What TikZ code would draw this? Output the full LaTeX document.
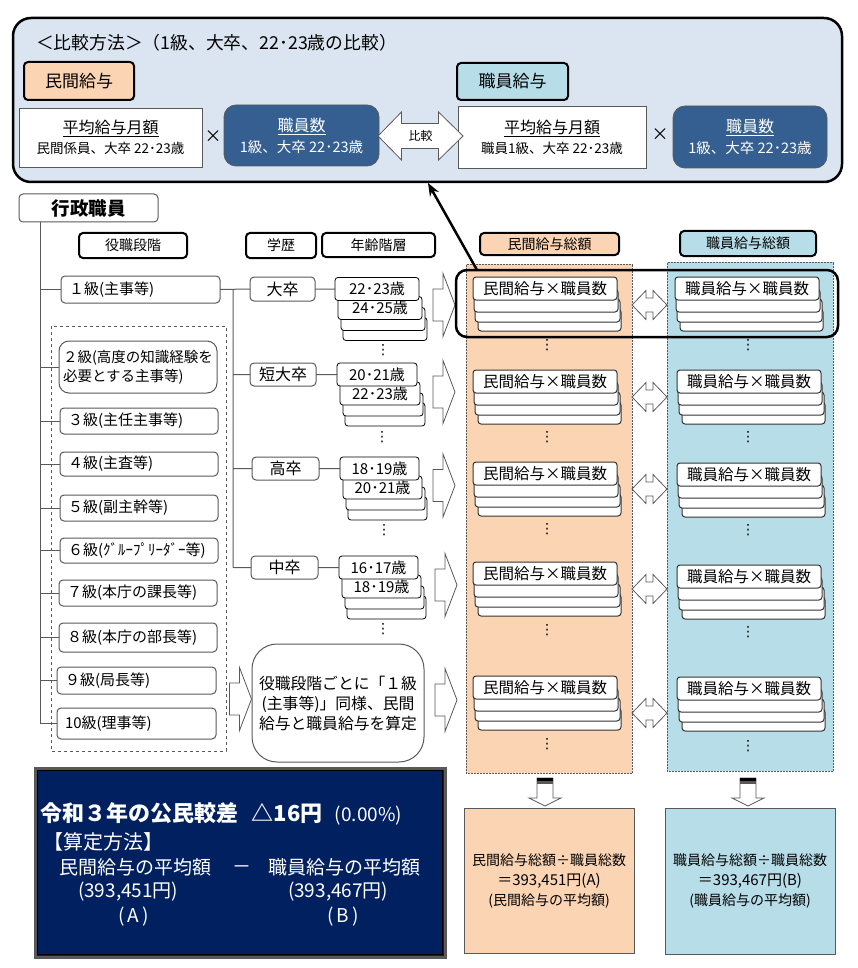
\documentclass[tikz,border=0pt]{standalone}
\usepackage{fontspec}
\setmainfont{Noto Sans CJK JP}
\newfontfamily\dotfont{DejaVu Sans}
\usetikzlibrary{calc, arrows.meta}
\definecolor{panelblue}{HTML}{DBE5F1}
\definecolor{peach}{HTML}{FBD4B4}
\definecolor{sky}{HTML}{B7DDE8}
\definecolor{steel}{HTML}{365F91}
\definecolor{navy}{HTML}{002060}
\definecolor{edge}{HTML}{595959}
\tikzset{
    every node/.style={inner sep=0pt, outer sep=0pt},
    panelbox/.style={draw=black, line width=2.5pt, fill=panelblue, rounded corners=18pt},
    headbox/.style={draw=black, line width=2pt, fill=#1, rounded corners=4pt, font=\fontsize{14}{18}\selectfont},
    whitebox/.style={draw=edge, line width=0.8pt, fill=white, align=center, font=\fontsize{16}{20}\selectfont},
    steelbox/.style={draw=edge, line width=0.8pt, fill=steel, text=white, rounded corners=12pt, align=center, font=\fontsize{16}{21}\selectfont},
    gradebox/.style={draw=edge, line width=1pt, fill=white, rounded corners=4pt, font=\fontsize{15}{19}\selectfont},
    edubox/.style={draw=edge, line width=1pt, fill=white, rounded corners=4pt, font=\fontsize{16}{20}\selectfont},
    agebox/.style={draw=black, line width=0.8pt, fill=white, rounded corners=3pt, font=\fontsize{15}{18}\selectfont},
    paybox/.style={draw=black!80, line width=1pt, fill=white, rounded corners=3pt, font=\fontsize{15.5}{18}\selectfont},
    column/.style={draw=edge, densely dotted, line width=0.5pt, fill=#1},
    resultbox/.style={draw=edge, line width=1pt, fill=#1, align=center, font=\fontsize{14}{20}\selectfont},
    blockline/.style={draw=edge, line width=0.8pt, fill=white},
    treeline/.style={draw=edge, line width=1pt},
    navytext/.style={text=white, anchor=west, font=\fontsize{19}{22}\selectfont},
}
\newcommand{\plate}[7]{
    \node[#1, minimum width={((#5)-(#3))*1pt}, minimum height={((#6)-(#4))*1pt}] (#2) at ({((#3)+(#5))/2}, {((#4)+(#6))/2}) {#7};
}
\newcommand{\grade}[6]{
    \plate{gradebox}{#1}{#2}{#3}{#4}{#5}{\makebox[\dimexpr#4pt-#2pt\relax][l]{\hspace{8pt}#6}}
}
\newcommand{\agestack}[6]{
    \plate{agebox}{#1-d}{#2+8}{#3+40}{#2+#4+8}{#3+63}{}
    \plate{agebox}{#1-c}{#2+6}{#3+30}{#2+#4+6}{#3+53}{}
    \plate{agebox}{#1-b}{#2+3}{#3+19}{#2+#4+3}{#3+42}{#6}
    \plate{agebox}{#1-a}{#2}{#3}{#2+#4}{#3+23}{#5}
}
\newcommand{\paystack}[4]{
    \plate{paybox}{#1-d}{#2+5}{#3+32}{#2+148}{#3+54}{}
    \plate{paybox}{#1-c}{#2+2}{#3+22}{#2+147}{#3+45}{}
    \plate{paybox}{#1-b}{#2+1}{#3+12}{#2+145}{#3+35}{}
    \plate{paybox}{#1-a}{#2}{#3}{#2+144}{#3+23}{#4}
}
\newcommand{\rightblock}[3]{
    \coordinate (#1) at (#2, #3);
    \draw[blockline]
    ($(#1) + (0, -16)$) -- ($(#1) + (10, -16)$) -- ($(#1) + (10, -31.5)$) -- ($(#1) + (22, 0)$) -- ($(#1) + (10, 31.5)$) -- ($(#1) + (10, 16)$) -- ($(#1) + (0, 16)$) -- cycle;
}
\newcommand{\swapblock}[3]{
    \coordinate (#1) at (#2, #3);
    \draw[blockline]
    ($(#1) + (0, 0)$) -- ($(#1) + (14, -14.5)$) -- ($(#1) + (14, -7)$) -- ($(#1) + (21, -7)$) -- ($(#1) + (21, -14.5)$) -- ($(#1) + (35, 0)$) -- ($(#1) + (21, 14.5)$) -- ($(#1) + (21, 7)$) -- ($(#1) + (14, 7)$) -- ($(#1) + (14, 14.5)$) -- cycle;
}
\newcommand{\downblock}[3]{
    \coordinate (#1) at (#2, #3);
    \draw[blockline]
    ($(#1) + (-8, 0)$) -- ($(#1) + (8, 0)$) -- ($(#1) + (8, 20)$) -- ($(#1) + (16, 20)$) -- ($(#1) + (0, 28)$) -- ($(#1) + (-16, 20)$) -- ($(#1) + (-8, 20)$) -- cycle;
    \fill[black] ($(#1) + (-8, 0)$) rectangle ($(#1) + (8, 3)$);
    \fill[edge] ($(#1) + (-8, 3)$) rectangle ($(#1) + (8, 6)$);
}
\newcommand{\dotsat}[3]{
    \node[font=\dotfont\fontsize{14}{14}\selectfont] (#1) at (#2, #3) {⋮};
}
\begin{document}
\begin{tikzpicture}[x=1pt, y=-1pt]
    \useasboundingbox (0, 0) rectangle (858, 968);
    % comparison panel
    \plate{panelbox}{panel}{13}{18}{842}{182}{}
    \node[anchor=west, font=\fontsize{17.8}{20}\selectfont] (panel-t) at (36, 43) {＜比較方法＞（1級、大卒、22･23歳の比較）};
    \plate{headbox=peach, font=\fontsize{17}{20}\selectfont}{pay-p}{24}{62}{134}{100}{民間給与}
    \plate{headbox=sky, font=\fontsize{17}{20}\selectfont}{pay-s}{457}{63}{568}{100}{職員給与}
    \plate{whitebox}{avg-p}{19}{108}{202}{167}{\underline{平均給与月額}\\{\fontsize{13.5}{20}\selectfont 民間係員、大卒 22･23歳}}
    \node[font=\fontsize{17}{20}\selectfont] (times-p) at (213, 137) {×};
    \plate{steelbox}{num-p}{224}{105}{379}{166}{\underline{職員数}\\{\fontsize{14.5}{21}\selectfont 1級、大卒 22･23歳}}
    \plate{whitebox}{avg-s}{458}{106}{646}{168}{\underline{平均給与月額}\\{\fontsize{13.5}{20}\selectfont 職員1級、大卒 22･23歳}}
    \node[font=\fontsize{17}{20}\selectfont] (times-s) at (660, 135) {×};
    \plate{steelbox}{num-s}{673}{106}{827}{168}{\underline{職員数}\\{\fontsize{14.5}{21}\selectfont 1級、大卒 22･23歳}}
    \coordinate (cmp) at (420.5, 136);
    \draw[blockline]
    ($(cmp) + (-42.5, 0)$) -- ($(cmp) + (-19, -24)$) -- ($(cmp) + (-19, -12.5)$) -- ($(cmp) + (18, -12.5)$) -- ($(cmp) + (18, -24)$) -- ($(cmp) + (42.5, 0)$) -- ($(cmp) + (18, 24)$) -- ($(cmp) + (18, 12.5)$) -- ($(cmp) + (-19, 12.5)$) -- ($(cmp) + (-19, 24)$) -- cycle;
    \node[font=\fontsize{12}{14}\selectfont] (cmp-t) at (cmp) {比較};
    % columns
    \plate{column=peach}{col-p}{466}{264}{632}{773}{}
    \plate{column=sky}{col-s}{667}{262}{833}{771}{}
    % headers
    \plate{edubox, font=\fontsize{18.5}{22}\selectfont\bfseries}{root}{19}{194}{158}{222}{行政職員}
    \plate{headbox=white}{head-g}{79}{233}{187}{258}{役職段階}
    \plate{headbox=white}{head-e}{246}{233}{316}{258}{学歴}
    \plate{headbox=white}{head-a}{322}{233}{435}{257}{年齢階層}
    \plate{headbox=peach}{head-p}{480}{233}{619}{255}{民間給与総額}
    \plate{headbox=sky}{head-s}{680}{231}{816}{256}{職員給与総額}
    % grades
    \draw[edge, dashed, line width=0.8pt] (51, 326) rectangle (226, 751);
    \coordinate (trunk) at (40, 723);
    \coordinate (branch) at (233, 567.5);
    \draw[treeline] (root.south -| trunk) -- (trunk);
    \grade{g1}{61}{276}{220}{303}{１級(主事等)}
    \plate{gradebox, align=left, rounded corners=10pt, font=\fontsize{14.5}{19}\selectfont}{g2}{59}{341}{217}{393}{２級(高度の知識経験を\\必要とする主事等)}
    \grade{g3}{60}{408}{218}{434}{３級(主任主事等)}
    \grade{g4}{60}{452}{218}{476}{４級(主査等)}
    \grade{g5}{60}{495}{218}{521}{５級(副主幹等)}
    \grade{g6}{60}{538}{218}{563}{６級(ｸﾞﾙｰﾌﾟﾘｰﾀﾞｰ等)}
    \grade{g7}{59}{580}{217}{606}{７級(本庁の課長等)}
    \grade{g8}{59}{623}{217}{652}{８級(本庁の部長等)}
    \grade{g9}{57}{667}{216}{694}{９級(局長等)}
    \grade{g10}{57}{708}{216}{739}{10級(理事等)}
    \draw[treeline]
    (g1.west -| trunk) -- (g1.west)
    (g2.west -| trunk) -- (g2.west)
    (g3.west -| trunk) -- (g3.west)
    (g4.west -| trunk) -- (g4.west)
    (g5.west -| trunk) -- (g5.west)
    (g6.west -| trunk) -- (g6.west)
    (g7.west -| trunk) -- (g7.west)
    (g8.west -| trunk) -- (g8.west)
    (g9.west -| trunk) -- (g9.west)
    (g10.west -| trunk) -- (g10.west);
    % education and age
    \plate{edubox}{e1}{250}{277}{315}{301}{大卒}
    \plate{edubox}{e2}{250}{363}{316}{386}{短大卒}
    \plate{edubox}{e3}{252}{457}{319}{480}{高卒}
    \plate{edubox}{e4}{251}{556}{318}{579}{中卒}
    \agestack{a1}{335}{277.5}{84}{22･23歳}{24･25歳}
    \agestack{a2}{337}{363}{80}{20･21歳}{22･23歳}
    \agestack{a3}{340}{457}{79}{18･19歳}{20･21歳}
    \agestack{a4}{339}{556}{79}{16･17歳}{18･19歳}
    \draw[treeline]
    (g1.east) -- (e1.west)
    (e1.west -| branch) -- (branch)
    (e2.west -| branch) -- (e2.west)
    (e3.west -| branch) -- (e3.west)
    (branch) -- (e4.west)
    (e1.east) -- (a1-a.west)
    (e2.east) -- (a2-a.west)
    (e3.east) -- (a3-a.west)
    (e4.east) -- (a4-a.west);
    \dotsat{a1-v}{383}{350}
    \dotsat{a2-v}{382}{437}
    \dotsat{a3-v}{384}{530}
    \dotsat{a4-v}{383}{629}
    \plate{edubox, rounded corners=25pt, align=center, font=\fontsize{15.8}{20}\selectfont}{note}{252}{644}{424}{762}{役職段階ごとに「１級\\(主事等)」同様、民間\\給与と職員給与を算定}
    % arrows to the totals
    \rightblock{r1}{433}{305}
    \rightblock{r2}{433}{392}
    \rightblock{r3}{433}{485.5}
    \rightblock{r4}{435}{585}
    \rightblock{r5}{435}{700}
    \rightblock{r6}{229.5}{699}
    % totals
    \paystack{p1}{473}{277}{民間給与×職員数}
    \paystack{p2}{473}{370}{民間給与×職員数}
    \paystack{p3}{473}{462}{民間給与×職員数}
    \paystack{p4}{473}{562}{民間給与×職員数}
    \paystack{p5}{473}{676}{民間給与×職員数}
    \paystack{s1}{675}{277}{職員給与×職員数}
    \paystack{s2}{677}{370}{職員給与×職員数}
    \paystack{s3}{677}{463}{職員給与×職員数}
    \paystack{s4}{677}{565}{職員給与×職員数}
    \paystack{s5}{677}{677}{職員給与×職員数}
    \swapblock{x1}{632}{305}
    \swapblock{x2}{632}{397}
    \swapblock{x3}{632}{489}
    \swapblock{x4}{632}{589}
    \swapblock{x5}{632}{713}
    \dotsat{p1-v}{547}{345}
    \dotsat{p2-v}{547}{437}
    \dotsat{p3-v}{547}{529}
    \dotsat{p4-v}{547}{630}
    \dotsat{p5-v}{547}{744}
    \dotsat{s1-v}{748}{345}
    \dotsat{s2-v}{748}{437}
    \dotsat{s3-v}{748}{530}
    \dotsat{s4-v}{748}{632}
    \dotsat{s5-v}{748}{746}
    % highlight and its arrow
    \plate{draw=black, line width=2.5pt, rounded corners=11pt}{mark}{456}{270}{838}{337}{}
    \coordinate (mark-foot) at (477, 270);
    \coordinate (panel-foot) at (428, 183);
    \draw[-{Stealth[length=13pt, width=10pt]}, line width=2.5pt] (mark-foot) -- (panel-foot);
    % results
    \downblock{d1}{545}{778}
    \downblock{d2}{748}{778}
    \plate{resultbox=peach}{res-p}{464}{808}{634}{953}{民間給与総額÷職員総数\\{\fontsize{15}{20}\selectfont ＝393,451円(A)}\\(民間給与の平均額)}
    \plate{resultbox=sky}{res-s}{665}{808}{835}{954}{職員給与総額÷職員総数\\{\fontsize{15}{20}\selectfont ＝393,467円(B)}\\(職員給与の平均額)}
    % summary
    \plate{draw=edge, line width=3pt, fill=navy}{sum}{35}{768}{445}{957}{}
    \plate{draw=black, line width=1pt}{sum-i}{37.5}{770.5}{442.5}{954.5}{}
    \node[navytext, font=\fontsize{22}{24}\selectfont] (sum-t) at (40, 814) {\bfseries 令和３年の公民較差\hspace{14pt}△16円\hspace{12pt}\mdseries\fontsize{19}{24}\selectfont (0.00\%)};
    \node[navytext, font=\fontsize{20}{24}\selectfont] (sum-h) at (43, 842) {【算定方法】};
    \node[navytext] (sum-p) at (59, 867) {民間給与の平均額};
    \node[navytext] (sum-m) at (232, 870) {－};
    \node[navytext] (sum-s) at (268, 867) {職員給与の平均額};
    \node[navytext] (sum-p1) at (78, 892) {(393,451円)};
    \node[navytext] (sum-s1) at (288, 892) {(393,467円)};
    \node[navytext] (sum-p2) at (118, 917) {(\,A\,)};
    \node[navytext] (sum-s2) at (327, 917) {(\,B\,)};
\end{tikzpicture}
\end{document}
